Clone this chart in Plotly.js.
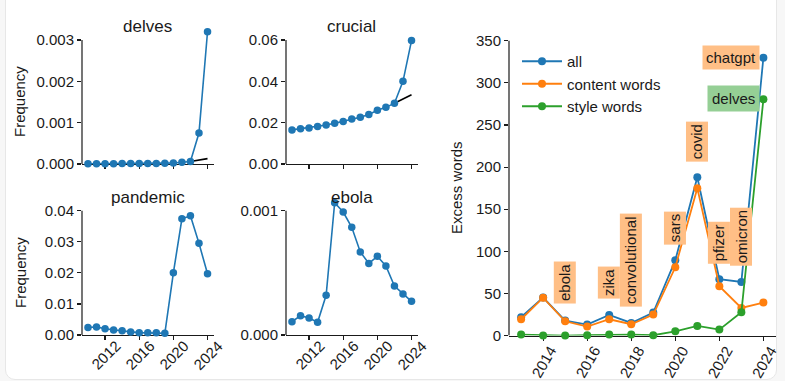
<!DOCTYPE html>
<html>
<head>
<meta charset="utf-8">
<script src="https://cdn.plot.ly/plotly-3.0.1.min.js"></script>
<style>
  html, body { margin: 0; padding: 0; background: #f7f7f7; width: 785px; height: 381px; overflow: hidden; }
  #card { position: absolute; left: 5px; top: -12px; width: 770px; height: 390px; background: #ffffff;
          border: 1px solid #e7e7e7; border-radius: 10px; }
  #chart { position: absolute; left: 0; top: 0; width: 785px; height: 381px; }
</style>
</head>
<body>
<div id="card"></div>
<div id="chart"></div>
<script>
// ---- data ----
const years = [2010, 2011, 2012, 2013, 2014, 2015, 2016, 2017, 2018, 2019, 2020, 2021, 2022, 2023, 2024];
const delvesFreq = [0.000005, 0.000005, 0.000006, 0.000006, 0.00001, 0.00001, 0.00001, 0.00001, 0.000015, 0.00002, 0.000025, 0.00004, 0.00006, 0.00075, 0.0032];
const crucialFreq = [0.0165, 0.0171, 0.0174, 0.0181, 0.0189, 0.0197, 0.0206, 0.0218, 0.0226, 0.0240, 0.0260, 0.0274, 0.0294, 0.0400, 0.0597];
const pandemicFreq = [0.0024, 0.0026, 0.0020, 0.0016, 0.0014, 0.0010, 0.00075, 0.00075, 0.00075, 0.00054, 0.0200, 0.0374, 0.0384, 0.0295, 0.0197];
const ebolaFreq = [0.000107, 0.000155, 0.000137, 0.000102, 0.000319, 0.001064, 0.000989, 0.000866, 0.000668, 0.000576, 0.000633, 0.000555, 0.000394, 0.00033, 0.000271];

const trendYears = [2022, 2023, 2024];
const delvesTrend = [0.00006, 0.00009, 0.00013];
const crucialTrend = [0.0294, 0.0314, 0.0335];

const excessYears = [2013, 2014, 2015, 2016, 2017, 2018, 2019, 2020, 2021, 2022, 2023, 2024];
const excessAll = [21.8, 45.1, 17.8, 13.1, 24.5, 15.0, 27.3, 89.4, 187.9, 66.9, 63.7, 329.8];
const excessContent = [19.4, 45.0, 17.0, 10.7, 19.4, 13.5, 24.9, 81.1, 175.0, 58.6, 32.8, 39.2];
const excessStyle = [1.2, 0.2, 0.0, 0.4, 1.2, 1.2, 0.4, 5.1, 11.5, 7.1, 27.7, 280.4];

const wordLabels = ['ebola', 'zika', 'convolutional', 'sars', 'covid', 'pfizer', 'omicron'];
const wordLabelYears = [2015, 2017, 2018, 2020, 2021, 2022, 2023];
const wordLabelValues = [62.6, 62.6, 89.9, 127.9, 230, 110, 117.2];

const panelTitles = ['delves', 'crucial', 'pandemic', 'ebola'];
const seriesNames = ['all', 'content words', 'style words'];
const smallTicks = [2012, 2016, 2020, 2024];
const bigTicks = [2014, 2016, 2018, 2020, 2022, 2024];

// ---- styling helpers ----
const W = 785, H = 381;
const FONT = 'Liberation Sans, Arial, Helvetica, sans-serif';
const INK = '#1a1a1a';
const BLUE = '#1f77b4', ORANGE = '#ff7f0e', GREEN = '#2ca02c';
const px = v => v / W;
const py = v => 1 - v / H;

function xAxis(anchor, domL, domR, range, tickvals) {
  return {
    anchor: anchor,
    domain: [px(domL), px(domR)], range: range, tickmode: 'array', tickvals: tickvals,
    ticktext: tickvals.map(String), showticklabels: false,
    showgrid: false, zeroline: false, showline: true, linecolor: INK, linewidth: 1.2,
    ticks: 'outside', ticklen: 4, tickwidth: 1.2, tickcolor: INK, layer: 'below traces',
    tickfont: {family: FONT, size: 15, color: INK}, fixedrange: true
  };
}
function yAxis(anchor, domTop, domBot, range, tickvals, fmt) {
  return {
    anchor: anchor,
    domain: [py(domBot), py(domTop)], range: range, tickmode: 'array', tickvals: tickvals,
    ticktext: tickvals.map(v => fmt(v)),
    showgrid: false, zeroline: false, showline: false,
    ticks: 'outside', ticklen: 4, tickwidth: 1.2, tickcolor: INK, layer: 'below traces',
    tickfont: {family: FONT, size: 15, color: INK}, fixedrange: true
  };
}
const f3 = v => v.toFixed(3), f2 = v => v.toFixed(2), f0 = v => String(v);

const xr = [2009.3, 2024.7];

function freqTrace(y, xa, ya) {
  return {x: years, y: y, xaxis: xa, yaxis: ya, mode: 'lines+markers', showlegend: false,
    line: {color: BLUE, width: 1.6}, marker: {color: BLUE, size: 7.5}, cliponaxis: false, hoverinfo: 'skip'};
}
function trendTrace(y, xa, ya) {
  return {x: trendYears, y: y, xaxis: xa, yaxis: ya, mode: 'lines', showlegend: false,
    line: {color: '#000000', width: 1.6}, cliponaxis: false, hoverinfo: 'skip'};
}
function excessTrace(y, name, color) {
  return {x: excessYears, y: y, name: name, xaxis: 'x5', yaxis: 'y5', mode: 'lines+markers',
    line: {color: color, width: 1.8}, marker: {color: color, size: 8}, cliponaxis: false, hoverinfo: 'skip'};
}

const data = [
  trendTrace(delvesTrend, 'x', 'y'),
  freqTrace(delvesFreq, 'x', 'y'),
  trendTrace(crucialTrend, 'x2', 'y2'),
  freqTrace(crucialFreq, 'x2', 'y2'),
  freqTrace(pandemicFreq, 'x3', 'y3'),
  freqTrace(ebolaFreq, 'x4', 'y4'),
  excessTrace(excessAll, seriesNames[0], BLUE),
  excessTrace(excessContent, seriesNames[1], ORANGE),
  excessTrace(excessStyle, seriesNames[2], GREEN)
];

// y spines (trimmed to last tick, like the reference)
function spine(xa, ya, top) {
  return {type: 'line', xref: xa + ' domain', yref: ya, x0: 0, x1: 0, y0: 0, y1: top,
    line: {color: INK, width: 1.2}, layer: 'below'};
}

const annotations = [];
// panel titles
const titleRefs = ['x', 'x2', 'x3', 'x4'];
const titleY = [27, 27, 197.5, 197.5];
panelTitles.forEach((t, i) => annotations.push({
  text: t, xref: titleRefs[i] + ' domain', yref: 'paper', x: 0.5, y: py(titleY[i]),
  xanchor: 'center', yanchor: 'middle', showarrow: false, font: {family: FONT, size: 17, color: INK}
}));
// axis titles
[[20, 102, 'Frequency'], [20, 273, 'Frequency'], [457, 188, 'Excess words']].forEach(a => annotations.push({
  text: a[2], xref: 'paper', yref: 'paper', x: px(a[0]), y: py(a[1]), textangle: -90,
  xanchor: 'center', yanchor: 'middle', showarrow: false, font: {family: FONT, size: 15, color: INK}
}));
// rotated x tick labels, centred under their ticks (matplotlib style)
function tickLabels(xa, vals, centerPx, angle) {
  vals.forEach(v => annotations.push({
    text: String(v), xref: xa, yref: 'paper', x: v, y: py(centerPx), textangle: angle,
    xanchor: 'center', yanchor: 'middle', showarrow: false, borderpad: 0,
    font: {family: FONT, size: 15, color: INK}
  }));
}
tickLabels('x3', smallTicks, 355, -45);
tickLabels('x4', smallTicks, 355, -45);
tickLabels('x5', bigTicks, 362, -60);
// word labels on the excess panel
wordLabels.forEach((w, i) => annotations.push({
  text: w, xref: 'x5', yref: 'y5', x: wordLabelYears[i], y: wordLabelValues[i], textangle: -90,
  xanchor: 'center', yanchor: 'middle', showarrow: false, bgcolor: '#ffbf86', borderpad: 2,
  font: {family: FONT, size: 15, color: INK}
}));
annotations.push({text: 'chatgpt', xref: 'x5', yref: 'y5', x: 2023.85, y: 330, xanchor: 'right', yanchor: 'middle',
  showarrow: false, bgcolor: '#ffbf86', borderpad: 3, font: {family: FONT, size: 15, color: INK}});
annotations.push({text: 'delves', xref: 'x5', yref: 'y5', x: 2023.85, y: 281, xanchor: 'right', yanchor: 'middle',
  showarrow: false, bgcolor: '#95cf95', borderpad: 4, font: {family: FONT, size: 15, color: INK}});

const layout = {
  width: W, height: H, margin: {l: 0, r: 0, t: 0, b: 0},
  paper_bgcolor: 'rgba(0,0,0,0)', plot_bgcolor: 'rgba(0,0,0,0)',
  font: {family: FONT, size: 15, color: INK},
  xaxis: xAxis('y', 82, 213.5, xr, smallTicks),
  yaxis: yAxis('x', 28, 164, [0, 0.00329], [0, 0.001, 0.002, 0.003], f3),
  xaxis2: xAxis('y2', 286, 417.5, xr, smallTicks),
  yaxis2: yAxis('x2', 28, 164, [0, 0.0658], [0, 0.02, 0.04, 0.06], f2),
  xaxis3: xAxis('y3', 82, 213.5, xr, smallTicks),
  yaxis3: yAxis('x3', 198, 335, [0, 0.04409], [0, 0.01, 0.02, 0.03, 0.04], f2),
  xaxis4: xAxis('y4', 286, 417.5, xr, smallTicks),
  yaxis4: yAxis('x4', 198, 335, [0, 0.001102], [0, 0.001], f3),
  xaxis5: xAxis('y5', 509, 775.5, [2012.45, 2024.55], bigTicks),
  yaxis5: yAxis('x5', 36, 335.6, [0, 355.6], [0, 50, 100, 150, 200, 250, 300, 350], f0),
  shapes: [spine('x', 'y', 0.003), spine('x2', 'y2', 0.06), spine('x3', 'y3', 0.04), spine('x4', 'y4', 0.001), spine('x5', 'y5', 350)],
  annotations: annotations,
  showlegend: true,
  legend: {x: px(517), y: py(45), xanchor: 'left', yanchor: 'top', bgcolor: 'rgba(0,0,0,0)', itemwidth: 40,
    font: {family: FONT, size: 15, color: INK}, traceorder: 'normal', tracegroupgap: 0}
};

Plotly.newPlot('chart', data, layout, {staticPlot: true, displayModeBar: false});
</script>
</body>
</html>
